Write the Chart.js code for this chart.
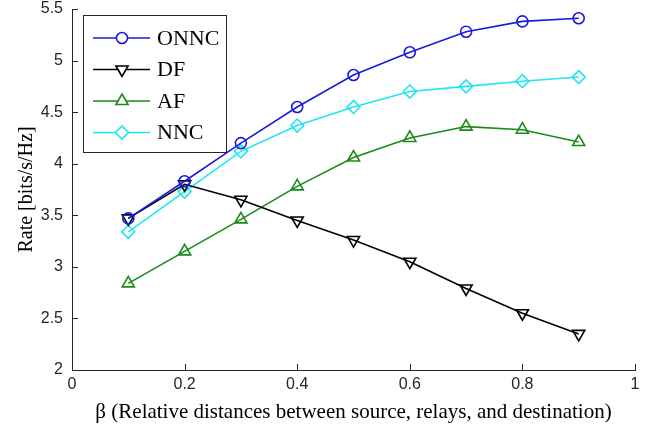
<!DOCTYPE html>
<html>
<head>
<meta charset="utf-8">
<script src="https://cdn.jsdelivr.net/npm/chart.js@4/dist/chart.umd.min.js"></script>
<style>
  html, body { margin: 0; padding: 0; background: #fff; }
  #wrap { width: 660px; height: 425px; }
</style>
</head>
<body>
<div id="wrap"><canvas id="rateChart" width="660" height="425"></canvas></div>
<script>
const beta = [0.1, 0.2, 0.3, 0.4, 0.5, 0.6, 0.7, 0.8, 0.9];

const onnc = [3.47, 3.83, 4.20, 4.55, 4.86, 5.08, 5.28, 5.38, 5.41];
const df = [3.47, 3.80, 3.65, 3.45, 3.26, 3.05, 2.79, 2.55, 2.35];
const af = [2.84, 3.15, 3.46, 3.78, 4.06, 4.25, 4.36, 4.33, 4.21];
const nnc = [3.34, 3.73, 4.12, 4.37, 4.55, 4.70, 4.75, 4.80, 4.84];

const seriesNames = ["ONNC", "DF", "AF", "NNC"];
const xTicks = [0, 0.2, 0.4, 0.6, 0.8, 1];
const yTicks = [2, 2.5, 3, 3.5, 4, 4.5, 5, 5.5];

const toPoints = (ys) => ys.map((y, i) => ({ x: beta[i], y: y }));

const tickFont = { family: "Liberation Sans", size: 16 };
const serif = "Liberation Serif";

// MATLAB style: ticks pointing into the plot
const inwardTicks = {
  id: "inwardTicks",
  afterDatasetsDraw(chart) {
    const ctx = chart.ctx;
    const xs = chart.scales.x;
    const ys = chart.scales.y;
    ctx.save();
    ctx.strokeStyle = "#262626";
    ctx.lineWidth = 1;
    ctx.beginPath();
    xTicks.forEach((v) => {
      const px = Math.round(xs.getPixelForValue(v)) + 0.5;
      ctx.moveTo(px, ys.bottom);
      ctx.lineTo(px, ys.bottom - 6);
    });
    yTicks.forEach((v) => {
      const py = Math.round(ys.getPixelForValue(v)) + 0.5;
      ctx.moveTo(xs.left, py);
      ctx.lineTo(xs.left + 6, py);
    });
    ctx.stroke();
    ctx.restore();
  },
};

// legend box drawn inside the axes, top left
const boxLegend = {
  id: "boxLegend",
  afterDraw(chart) {
    const ctx = chart.ctx;
    const left = 83, top = 15, w = 143, h = 137;
    ctx.save();
    ctx.fillStyle = "#fff";
    ctx.fillRect(left, top, w, h);
    ctx.strokeStyle = "#262626";
    ctx.lineWidth = 1;
    ctx.strokeRect(left + 0.5, top + 0.5, w, h);
    chart.data.datasets.forEach((ds, i) => {
      const y = top + 23 + i * 31.5;
      ctx.strokeStyle = ds.borderColor;
      ctx.lineWidth = ds.borderWidth;
      ctx.beginPath();
      ctx.moveTo(left + 10, y);
      ctx.lineTo(left + 67, y);
      ctx.stroke();
      ctx.fillStyle = "#fff";
      Chart.helpers.drawPoint(ctx, {
        pointStyle: ds.pointStyle,
        radius: ds.pointRadius,
        rotation: ds.pointRotation || 0,
        borderWidth: ds.pointBorderWidth,
      }, left + 39, y);
      ctx.fillStyle = "#000";
      ctx.font = "22px " + serif;
      ctx.textBaseline = "middle";
      ctx.textAlign = "left";
      ctx.fillText(seriesNames[i], left + 74, y + 1);
    });
    ctx.restore();
  },
};

function makeSet(i, ys, color, style, radius, rotation) {
  return {
    label: seriesNames[i],
    data: toPoints(ys),
    borderColor: color,
    backgroundColor: "rgba(0,0,0,0)",
    pointBorderColor: color,
    pointBackgroundColor: "rgba(0,0,0,0)",
    borderWidth: 1.6,
    pointBorderWidth: 1.6,
    pointStyle: style,
    pointRadius: radius,
    pointRotation: rotation,
    pointHoverRadius: radius,
    tension: 0,
  };
}

const rateCtx = document.querySelector("#rateChart").getContext("2d");

const rateChart = new Chart(rateCtx, {
  type: "line",
  data: {
    datasets: [
      makeSet(0, onnc, "#1a1adc", "circle", 5.5, 0),
      makeSet(1, df, "#000000", "triangle", 7, 180),
      makeSet(2, af, "#1a8a1a", "triangle", 7, 0),
      makeSet(3, nnc, "#1ee6f0", "rectRot", 6.5, 0),
    ],
  },
  options: {
    responsive: false,
    animation: false,
    layout: {
      padding: { top: 0, right: 25, bottom: 0, left: 0 },
    },
    plugins: {
      legend: { display: false },
      tooltip: { enabled: false },
      title: { display: false },
    },
    scales: {
      x: {
        type: "linear",
        min: 0,
        max: 1,
        afterBuildTicks: (scale) => {
          scale.ticks = xTicks.map((v) => ({ value: v }));
        },
        afterFit: (scale) => {
          scale.height = 55;
        },
        ticks: {
          font: tickFont,
          color: "#262626",
          padding: 5,
          maxRotation: 0,
          callback: (v) => String(v),
        },
        grid: { drawOnChartArea: false, drawTicks: false },
        border: { display: true, color: "#262626", width: 1 },
        title: {
          display: true,
          text: "β (Relative distances between source, relays, and destination)",
          font: { family: serif, size: 21 },
          color: "#000",
          padding: { top: 0, bottom: 0 },
        },
      },
      y: {
        type: "linear",
        min: 2,
        max: 5.5,
        afterBuildTicks: (scale) => {
          scale.ticks = yTicks.map((v) => ({ value: v }));
        },
        afterFit: (scale) => {
          scale.width = 72;
          scale.paddingTop = 9;
          scale.paddingBottom = 0;
        },
        ticks: {
          font: tickFont,
          color: "#262626",
          padding: 9,
          callback: (v) => String(v),
        },
        grid: { drawOnChartArea: false, drawTicks: false },
        border: { display: true, color: "#262626", width: 1 },
        title: {
          display: true,
          text: "Rate [bits/s/Hz]",
          font: { family: serif, size: 20 },
          color: "#000",
          padding: { top: 15, bottom: 0 },
        },
      },
    },
  },
  plugins: [inwardTicks, boxLegend],
});
</script>
</body>
</html>
